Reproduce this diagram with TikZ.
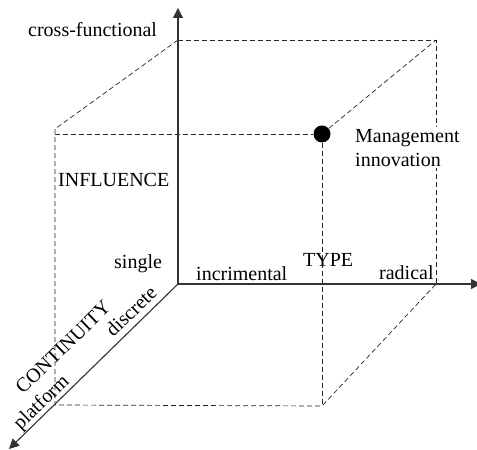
\documentclass[tikz,border=0pt]{standalone}
\usepackage{fontspec}
\setmainfont{Liberation Serif}
\usetikzlibrary{arrows.meta}

\begin{document}
\begin{tikzpicture}[
x=1pt, y=1pt,
axis/.style={draw=black!80, line width=1.1pt, -{Triangle[length=10pt,width=10pt]}},
cubeline/.style={draw=black!85, line width=0.7pt, dash pattern=on 5pt off 3pt},
every node/.style={font=\fontsize{20}{24}\selectfont, inner sep=0pt},
lbl/.style={anchor=base west},
slanted/.style={rotate=44}
]
\useasboundingbox (0,0) rectangle (477,450);

% corners of the cube
\coordinate (O) at (178,166);
\coordinate (bt) at (178,410);
\coordinate (btr) at (436,410);
\coordinate (bbr) at (436,166);
\coordinate (ftl) at (55,321);
\coordinate (fbl) at (55,45);
\coordinate (fbr) at (322,44);

% axis ends
\coordinate (ytip) at (178,442);
\coordinate (xtip) at (481,166);
\coordinate (ztip) at (9,1);

\node[circle, fill=black, minimum size=17pt] (mi) at (322,316) {};

\draw[cubeline] (bt) -- (btr) -- (bbr);
\draw[cubeline] (bt) -- (ftl) -- (fbl) -- (fbr) -- (bbr);
\draw[cubeline] (ftl |- mi) -- (mi);
\draw[cubeline] (mi) -- (fbr);
\draw[cubeline] (mi) -- (btr);

\draw[axis] (O) -- (ytip);
\draw[axis] (O) -- (xtip);
\draw[axis] (O) -- (ztip);

\node[anchor=north west, align=left, fill=white, inner sep=2pt] (mlabel) at (353,323) {Management\\innovation};

\node[lbl] (cf) at (28,413) {cross-functional};
\node[lbl] (infl) at (58,263) {INFLUENCE};
\node[lbl] (single) at (114,181) {single};
\node[lbl] (incr) at (196,169) {incrimental};
\node[lbl] (type) at (303,183) {TYPE};
\node[lbl] (rad) at (379,170) {radical};

\node[slanted] (cont) at (63,103) {CONTINUITY};
\node[slanted] (disc) at (131,139) {discrete};
\node[slanted] (plat) at (42,47) {platform};
\end{tikzpicture}
\end{document}
